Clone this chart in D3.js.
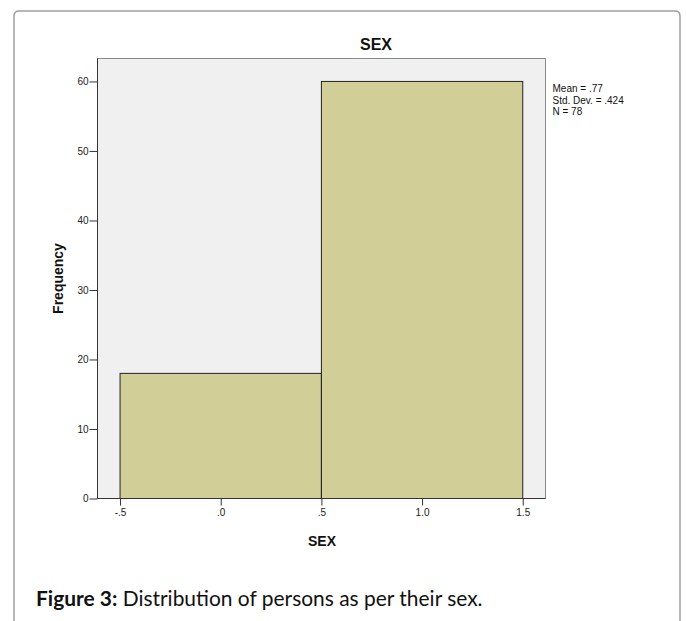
<!DOCTYPE html>
<html><head><meta charset="utf-8">
<script src="https://cdn.jsdelivr.net/npm/d3@7"></script>
<style>
html,body{margin:0;padding:0;background:#fff;}
svg{display:block;}
</style></head>
<body>
<svg id="chart" width="686" height="621"></svg>
<script>
// ---- data ----
const binStart = [-0.5, 0.5];
const binEnd = [0.5, 1.5];
const counts = [18, 60];
const xTickValues = [-0.5, 0, 0.5, 1.0, 1.5];
const xTickLabels = ["-.5", ".0", ".5", "1.0", "1.5"];
const yTickValues = [0, 10, 20, 30, 40, 50, 60];
const statsLines = ["Mean = .77", "Std. Dev. = .424", "N = 78"];
const chartTitle = "SEX";
const xLabel = "SEX";
const yLabel = "Frequency";
const captionBold = "Figure 3:";
const captionText = " Distribution of persons as per their sex.";

const svg = d3.select("#chart");

// outer frame (rounded, open at bottom)
const fx0 = 14, fy0 = 11, fx1 = 680, r = 5;
svg.append("path")
  .attr("d", `M${fx0},630 L${fx0},${fy0+r} Q${fx0},${fy0} ${fx0+r},${fy0} L${fx1-r},${fy0} Q${fx1},${fy0} ${fx1},${fy0+r} L${fx1},630`)
  .attr("fill", "none").attr("stroke", "#a0a0a0").attr("stroke-width", 1.5);

const plot = {left: 97.5, top: 58.5, right: 545.5, bottom: 498.5};
const x = d3.scaleLinear().domain([-0.612, 1.613]).range([plot.left, plot.right]);
const y = d3.scaleLinear().domain([0, 63.3]).range([plot.bottom, plot.top]);

// plot background
svg.append("rect")
  .attr("x", plot.left).attr("y", plot.top)
  .attr("width", plot.right - plot.left).attr("height", plot.bottom - plot.top)
  .attr("fill", "#f0f0f0").attr("stroke", "#8a8a8a").attr("stroke-width", 1);

// bars
svg.append("g").selectAll("rect").data(counts).join("rect")
  .attr("x", (d, i) => x(binStart[i]))
  .attr("width", (d, i) => x(binEnd[i]) - x(binStart[i]))
  .attr("y", d => y(d))
  .attr("height", d => y(0) - y(d))
  .attr("fill", "#d2ce98")
  .attr("stroke", "#222").attr("stroke-width", 1);

// axes
const yAxis = d3.axisLeft(y).tickValues(yTickValues).tickSize(8).tickPadding(1).tickFormat(d3.format("d"));
const gy = svg.append("g").attr("transform", `translate(${plot.left},0)`).call(yAxis);
gy.select(".domain").attr("stroke", "#333").attr("d", `M0,${plot.top}V${plot.bottom}`);
gy.selectAll(".tick line").attr("stroke", "#333");
gy.selectAll(".tick text").attr("font-family", "Arial, 'Liberation Sans', sans-serif").attr("font-size", 10).attr("fill", "#222");

const xAxis = d3.axisBottom(x).tickValues(xTickValues).tickSize(7).tickPadding(3)
  .tickFormat((d, i) => xTickLabels[i]);
const gx = svg.append("g").attr("transform", `translate(0,${plot.bottom})`).call(xAxis);
gx.select(".domain").attr("stroke", "#333").attr("d", `M${plot.left},0H${plot.right}`);
gx.selectAll(".tick line").attr("stroke", "#333");
gx.selectAll(".tick text").attr("font-family", "Arial, 'Liberation Sans', sans-serif").attr("font-size", 10).attr("fill", "#222");

// title
svg.append("text").attr("x", 376).attr("y", 50)
  .attr("text-anchor", "middle")
  .attr("font-family", "Arial, 'Liberation Sans', sans-serif")
  .attr("font-weight", "bold").attr("font-size", 16).attr("fill", "#111")
  .text(chartTitle);

// x label
svg.append("text").attr("x", 322).attr("y", 546)
  .attr("text-anchor", "middle")
  .attr("font-family", "Arial, 'Liberation Sans', sans-serif")
  .attr("font-weight", "bold").attr("font-size", 14).attr("fill", "#111")
  .text(xLabel);

// y label
svg.append("text")
  .attr("transform", `translate(63,${(plot.top + plot.bottom) / 2}) rotate(-90)`)
  .attr("text-anchor", "middle")
  .attr("font-family", "Arial, 'Liberation Sans', sans-serif")
  .attr("font-weight", "bold").attr("font-size", 14).attr("fill", "#111")
  .text(yLabel);

// stats
svg.append("g").selectAll("text").data(statsLines).join("text")
  .attr("x", 552.5).attr("y", (d, i) => 92 + i * 11.5)
  .attr("font-family", "Arial, 'Liberation Sans', sans-serif")
  .attr("font-size", 10).attr("fill", "#111")
  .text(d => d);

// caption
const cap = svg.append("text").attr("x", 36).attr("y", 606)
  .attr("font-family", "Lato, 'Open Sans', sans-serif")
  .attr("font-size", 18).attr("fill", "#111");
cap.append("tspan").attr("font-weight", "bold").text(captionBold);
cap.append("tspan").text(captionText);
// fit caption width to the reference width (~447px)
const w = cap.node().getComputedTextLength();
if (w > 0) cap.attr("font-size", Math.min(22, 18 * 447 / w));
</script>
</body></html>
